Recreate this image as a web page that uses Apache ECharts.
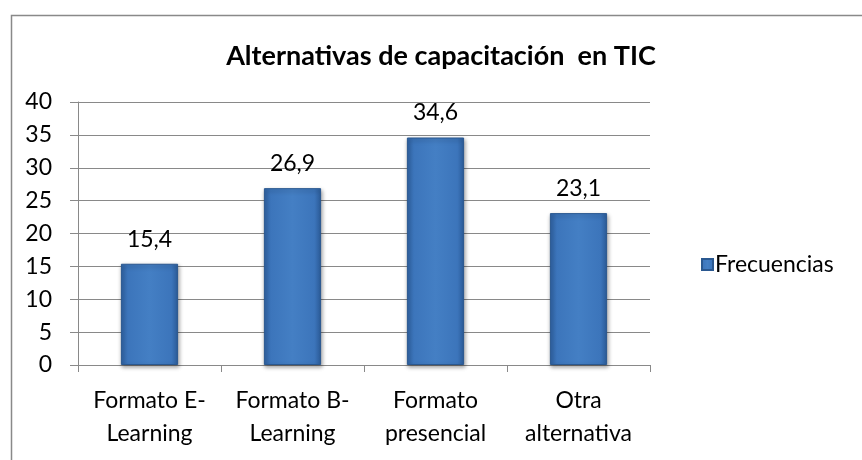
<!DOCTYPE html>
<html><head><meta charset="utf-8">
<script src="https://cdn.jsdelivr.net/npm/echarts@6/dist/echarts.min.js"></script>
<style>html,body{margin:0;padding:0;background:#fff}#c{width:862px;height:460px}</style>
</head><body><div id="c"></div>
<script>
const categories = ['Formato E-\nLearning', 'Formato B-\nLearning', 'Formato\npresencial', 'Otra\nalternativa'];
const values = [15.4, 26.9, 34.6, 23.1];
const seriesName = 'Frecuencias';
const titleText = 'Alternativas de capacitación  en TIC';
const yTicks = { min: 0, max: 40, interval: 5 };

const FONT = 'Lato, "Open Sans", sans-serif';
const barColor = new echarts.graphic.LinearGradient(0, 0, 1, 0, [
  { offset: 0, color: '#2f62a3' },
  { offset: 0.12, color: '#3c75bb' },
  { offset: 0.5, color: '#447fc4' },
  { offset: 0.88, color: '#3c75bb' },
  { offset: 1, color: '#2d5e9c' }
]);
const chart = echarts.init(document.getElementById('c'), null, { renderer: 'canvas' });
chart.setOption({
  backgroundColor: '#fff',
  animation: false,
  graphic: [{
    type: 'rect', left: 9, top: 13, z: -1,
    shape: { width: 900, height: 500 },
    style: { fill: 'none', stroke: '#898989', lineWidth: 1.5 }
  }],
  title: {
    text: titleText, left: 436, top: 38, textAlign: 'center',
    textStyle: { fontFamily: FONT, fontWeight: 'bold', fontSize: 27, color: '#000' }
  },
  legend: {
    data: [seriesName], left: 696, top: 248, orient: 'vertical',
    itemWidth: 11, itemHeight: 11, itemGap: 4, icon: 'rect',
    textStyle: { fontFamily: FONT, fontSize: 23, color: '#000', padding: [0, 0, 0, -3] }
  },
  grid: { left: 78, right: 212, top: 102, bottom: 95, containLabel: false },
  xAxis: {
    type: 'category', data: categories,
    axisLine: { lineStyle: { color: '#898989', width: 1 } },
    axisTick: { show: true, length: 7, lineStyle: { color: '#898989' }, alignWithLabel: false },
    axisLabel: { fontFamily: FONT, fontSize: 23, color: '#000', margin: 19, lineHeight: 33, interval: 0 }
  },
  yAxis: {
    type: 'value', min: yTicks.min, max: yTicks.max, interval: yTicks.interval,
    axisLine: { show: true, lineStyle: { color: '#898989', width: 1 } },
    axisTick: { show: true, length: 8, lineStyle: { color: '#898989' } },
    splitLine: { lineStyle: { color: '#898989', width: 1 } },
    axisLabel: { fontFamily: FONT, fontSize: 23, color: '#000', margin: 26 }
  },
  series: [{
    name: seriesName, type: 'bar', data: values, barWidth: '40%',
    itemStyle: {
      color: barColor, borderColor: '#2a5890', borderWidth: 1,
      shadowColor: 'rgba(0,0,0,0.35)', shadowBlur: 4, shadowOffsetX: 1, shadowOffsetY: 2
    },
    label: {
      show: true, position: 'top', distance: 13,
      fontFamily: FONT, fontSize: 23, color: '#000',
      formatter: p => String(p.value).replace('.', ',')
    }
  }]
});
</script></body></html>
